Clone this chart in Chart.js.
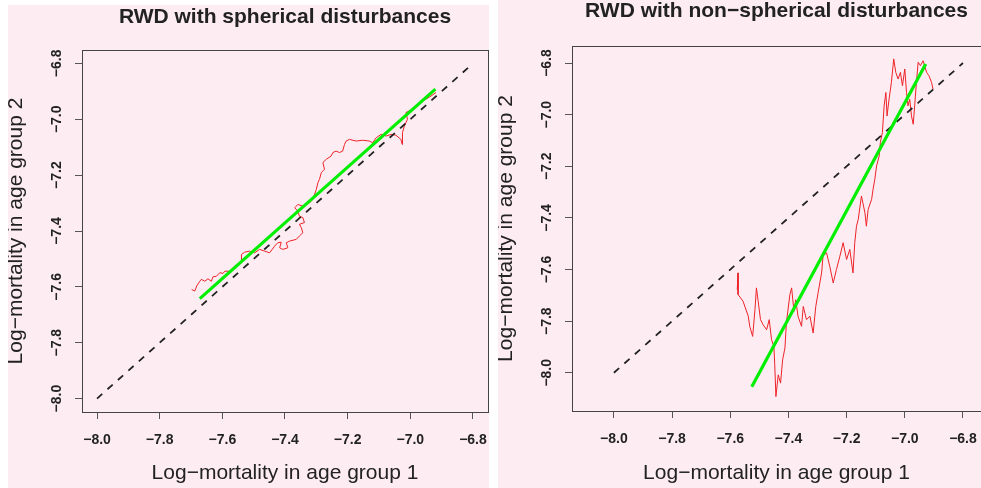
<!DOCTYPE html>
<html>
<head>
<meta charset="utf-8">
<script src="https://cdn.jsdelivr.net/npm/chart.js@4"></script>
<style>
  html, body { margin: 0; padding: 0; background: #fff; }
  body { width: 981px; height: 488px; position: relative; overflow: hidden; }
  .panel { position: absolute; background: #fdedf2; }
  .panel canvas { display: block; }
  #left { left: 8px; top: 5px; width: 481px; height: 483px; }
  #right { left: 498px; top: 0; width: 483px; height: 488px; }
</style>
</head>
<body>
<div class="panel" id="left"><canvas id="leftChart" width="481" height="483"></canvas></div>
<div class="panel" id="right"><canvas id="rightChart" width="483" height="488"></canvas></div>
<script>
const axisTicks = [-8.0, -7.8, -7.6, -7.4, -7.2, -7.0, -6.8];

// 45 degree reference line
const diagonalX = [-8.0, -6.8];
const diagonalY = [-8.0, -6.8];

// left panel: spherical disturbances
const sphericalX = [
  -7.698, -7.688, -7.682, -7.672, -7.667, -7.656, -7.646, -7.635, -7.630, -7.619,
  -7.608, -7.598, -7.592, -7.576, -7.566, -7.561, -7.550, -7.539, -7.539, -7.529,
  -7.513, -7.497, -7.481, -7.465, -7.449, -7.433, -7.423, -7.412, -7.417, -7.407,
  -7.391, -7.396, -7.385, -7.364, -7.354, -7.343, -7.348, -7.354, -7.338, -7.343,
  -7.354, -7.359, -7.369, -7.359, -7.343, -7.322, -7.311, -7.300, -7.295, -7.290,
  -7.284, -7.274, -7.279, -7.268, -7.253, -7.247, -7.237, -7.226, -7.216, -7.210,
  -7.205, -7.194, -7.173, -7.152, -7.131, -7.120, -7.109, -7.093, -7.077, -7.061,
  -7.046, -7.030, -7.026, -7.025, -7.019, -7.009, -7.014, -6.993, -6.977, -6.966,
  -6.950, -6.934, -6.918
];
const sphericalY = [
  -7.609, -7.615, -7.597, -7.580, -7.573, -7.580, -7.571, -7.580, -7.564, -7.562,
  -7.549, -7.552, -7.544, -7.544, -7.540, -7.526, -7.520, -7.508, -7.484, -7.476,
  -7.472, -7.478, -7.466, -7.472, -7.478, -7.454, -7.442, -7.440, -7.460, -7.466,
  -7.460, -7.442, -7.436, -7.430, -7.418, -7.406, -7.388, -7.376, -7.370, -7.352,
  -7.347, -7.329, -7.317, -7.305, -7.311, -7.299, -7.287, -7.251, -7.227, -7.215,
  -7.191, -7.179, -7.155, -7.143, -7.132, -7.119, -7.114, -7.119, -7.114, -7.090,
  -7.078, -7.072, -7.078, -7.075, -7.078, -7.084, -7.066, -7.054, -7.060, -7.054,
  -7.057, -7.072, -7.090, -7.048, -7.024, -7.000, -6.976, -6.964, -6.952, -6.934,
  -6.928, -6.917, -6.904
];
const sphericalFitX = [-7.672, -6.920];
const sphericalFitY = [-7.642, -6.892];

// right panel: non-spherical disturbances
const nonSphericalX = [
  -7.576, -7.573, -7.573, -7.556, -7.538, -7.533, -7.523, -7.515, -7.510, -7.504,
  -7.496, -7.487, -7.475, -7.466, -7.458, -7.450, -7.447, -7.443, -7.435, -7.427,
  -7.420, -7.412, -7.407, -7.395, -7.389, -7.381, -7.375, -7.367, -7.355, -7.349,
  -7.338, -7.326, -7.315, -7.306, -7.298, -7.286, -7.281, -7.269, -7.258, -7.246,
  -7.235, -7.223, -7.212, -7.200, -7.189, -7.178, -7.172, -7.166, -7.160, -7.149,
  -7.137, -7.132, -7.126, -7.114, -7.109, -7.103, -7.097, -7.088, -7.084, -7.077,
  -7.071, -7.065, -7.061, -7.054, -7.046, -7.038, -7.031, -7.023, -7.015, -7.008,
  -7.000, -6.994, -6.989, -6.983, -6.977, -6.971, -6.966, -6.960, -6.954, -6.946,
  -6.937, -6.925, -6.917, -6.908, -6.903
];
const nonSphericalY = [
  -7.678, -7.613, -7.697, -7.723, -7.781, -7.820, -7.859, -7.755, -7.671, -7.723,
  -7.794, -7.814, -7.833, -7.794, -7.872, -7.898, -7.969, -8.092, -8.008, -8.040,
  -7.950, -7.904, -7.807, -7.697, -7.671, -7.762, -7.717, -7.781, -7.820, -7.743,
  -7.794, -7.781, -7.846, -7.743, -7.690, -7.613, -7.548, -7.535, -7.587, -7.652,
  -7.600, -7.548, -7.496, -7.561, -7.522, -7.613, -7.496, -7.432, -7.406, -7.315,
  -7.380, -7.432, -7.367, -7.328, -7.289, -7.250, -7.199, -7.160, -7.108, -7.069,
  -6.966, -6.914, -7.005, -6.940, -6.875, -6.784, -6.836, -6.862, -6.836, -6.888,
  -6.823, -6.914, -6.966, -6.940, -7.005, -7.037, -6.966, -6.875, -6.797, -6.810,
  -6.791, -6.836, -6.849, -6.875, -6.901
];
const nonSphericalFitX = [-7.526, -6.928];
const nonSphericalFitY = [-8.054, -6.804];

const FONT = '"Liberation Sans", Arial, Helvetica, sans-serif';
const TEXT = '#222';
Chart.defaults.font.family = FONT;

const toPoints = (xs, ys) => xs.map((x, i) => ({ x: x, y: ys[i] }));
const fmtTick = v => (v < 0 ? '\u2212' : '') + Math.abs(v).toFixed(1);

// box round the plot region and the panel title
const panelFrame = {
  id: 'panelFrame',
  afterDatasetsDraw(chart, args, opts) {
    const { ctx, chartArea: a } = chart;
    ctx.save();
    ctx.strokeStyle = '#444';
    ctx.lineWidth = 1;
    ctx.strokeRect(a.left + 0.5, a.top + 0.5, a.right - a.left, a.bottom - a.top);
    ctx.font = 'bold 21px ' + FONT;
    ctx.fillStyle = TEXT;
    ctx.textAlign = 'center';
    ctx.textBaseline = 'alphabetic';
    ctx.fillText(opts.title, (a.left + a.right) / 2, opts.titleY);
    ctx.restore();
  }
};

function buildChart(canvasId, cfg) {
  return new Chart(document.getElementById(canvasId), {
    type: 'scatter',
    plugins: [panelFrame],
    data: {
      datasets: [
        {
          data: toPoints(cfg.fitX, cfg.fitY),
          showLine: true, borderColor: '#00ee00', borderWidth: 3.2, pointRadius: 0
        },
        {
          data: toPoints(diagonalX, diagonalY),
          showLine: true, borderColor: '#222', borderWidth: 1.8, borderDash: [7, 7], pointRadius: 0
        },
        {
          data: toPoints(cfg.pathX, cfg.pathY),
          showLine: true, borderColor: 'rgb(236, 34, 40)', borderWidth: 1, pointRadius: 0
        }
      ]
    },
    options: {
      responsive: false,
      animation: false,
      events: [],
      layout: { padding: { top: cfg.top, right: cfg.right, left: 0, bottom: 0 } },
      scales: {
        x: {
          type: 'linear',
          min: cfg.xMin,
          max: cfg.xMax,
          afterBuildTicks: s => { s.ticks = axisTicks.map(v => ({ value: v })); },
          afterFit: s => {
            s.height = cfg.xAxisHeight;
            s.paddingLeft = 0;
            s.paddingRight = 0;
          },
          ticks: {
            autoSkip: false, maxRotation: 0, minRotation: 0, padding: 13,
            color: TEXT, font: { size: 14, weight: 'bold' }, callback: fmtTick
          },
          grid: { drawOnChartArea: false, tickLength: 7, tickColor: '#555' },
          border: { color: '#444' },
          title: {
            display: true, text: 'Log\u2212mortality in age group 1', color: TEXT,
            font: { size: 21 }, padding: { top: 0, bottom: 2 }
          }
        },
        y: {
          type: 'linear',
          min: cfg.yMin,
          max: cfg.yMax,
          afterBuildTicks: s => { s.ticks = axisTicks.map(v => ({ value: v })); },
          afterFit: s => {
            s.width = 74;
            s.paddingTop = 0;
            s.paddingBottom = 0;
          },
          ticks: {
            autoSkip: false, minRotation: 90, maxRotation: 90, crossAlign: 'center', padding: 4.5,
            color: TEXT, font: { size: 14, weight: 'bold' }, callback: fmtTick
          },
          grid: { drawOnChartArea: false, tickLength: 7, tickColor: '#555' },
          border: { color: '#444' },
          title: {
            display: true, text: 'Log\u2212mortality in age group 2', color: TEXT,
            font: { size: 21, lineHeight: 0.8 }, padding: 0
          }
        }
      },
      plugins: {
        legend: { display: false },
        tooltip: { enabled: false },
        panelFrame: { title: cfg.title, titleY: cfg.titleY }
      }
    }
  });
}

buildChart('leftChart', {
  title: 'RWD with spherical disturbances', titleY: 17.5,
  pathX: sphericalX, pathY: sphericalY,
  fitX: sphericalFitX, fitY: sphericalFitY,
  xMin: -8.048, xMax: -6.752, yMin: -8.048, yMax: -6.752,
  top: 45, right: 1, xAxisHeight: 76
});

buildChart('rightChart', {
  title: 'RWD with non\u2212spherical disturbances', titleY: 16.7,
  pathX: nonSphericalX, pathY: nonSphericalY,
  fitX: nonSphericalFitX, fitY: nonSphericalFitY,
  xMin: -8.144, xMax: -6.738, yMin: -8.148, yMax: -6.734,
  top: 46, right: 0, xAxisHeight: 77
});
</script>
</body>
</html>
